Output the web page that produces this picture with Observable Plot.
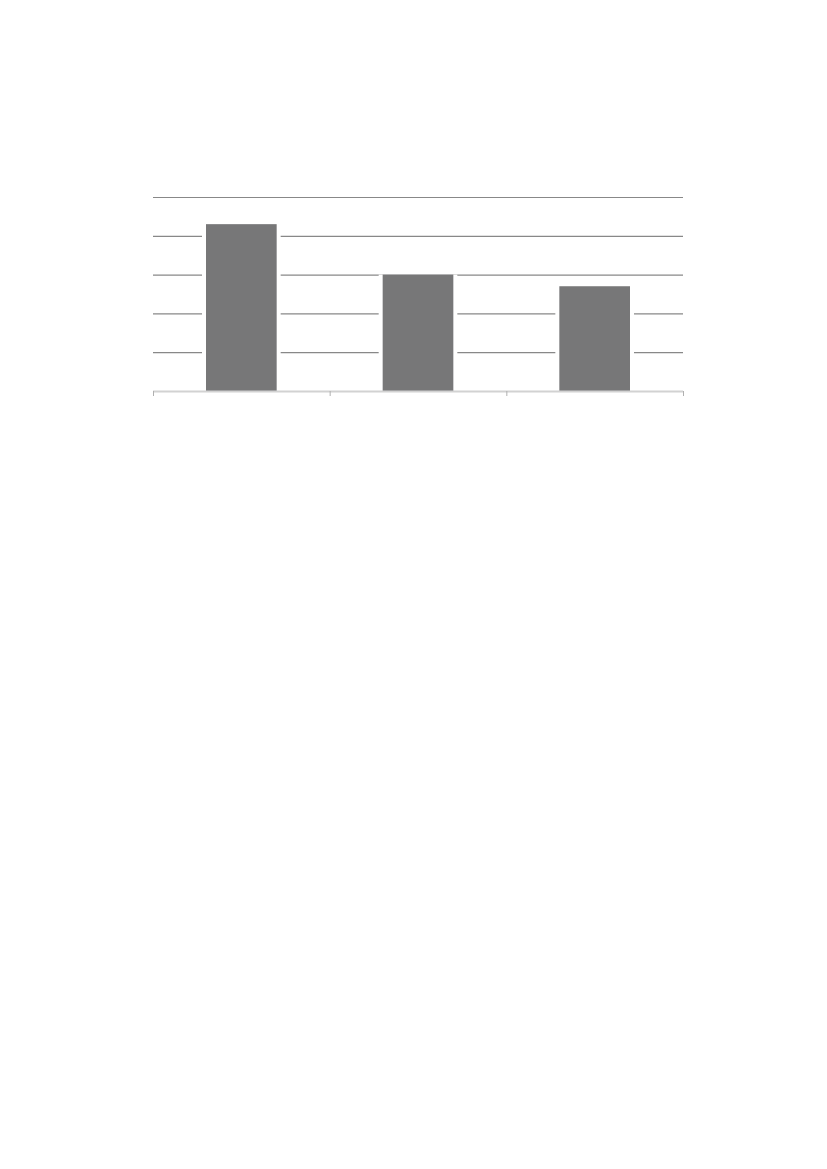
<!DOCTYPE html>
<html>
<head>
<meta charset="utf-8">
<script src="https://cdn.jsdelivr.net/npm/d3@7"></script>
<script src="https://cdn.jsdelivr.net/npm/@observablehq/plot@0.6"></script>
<style>
  html, body { margin: 0; padding: 0; background: #fff; }
  #chart svg { display: block; }
</style>
</head>
<body>
<div id="chart"></div>
<script>
const categories = ["A", "B", "C"];
const values = [4.3, 3.0, 2.7];
const yTicks = [1, 2, 3, 4, 5];
const xBoundaries = [0, 1, 2, 3];

const data = categories.map((c, i) => ({category: c, i0: i, i1: i + 1, value: values[i]}));

const chart = Plot.plot({
  width: 827,
  height: 401,
  marginTop: 197,
  marginBottom: 10,
  marginLeft: 153,
  marginRight: 144,
  style: {background: "#fff"},
  x: {type: "linear", domain: [0, 3], axis: null},
  y: {domain: [0, 5], axis: null},
  marks: [
    Plot.gridY(yTicks, {stroke: "#888", strokeOpacity: 1, strokeWidth: 1.2}),
    Plot.rectY(data, {x1: "i0", x2: "i1", y: "value", fill: "#fff", insetLeft: 49, insetRight: 49}),
    Plot.rectY(data, {x1: "i0", x2: "i1", y: "value", fill: "#777778", insetLeft: 53, insetRight: 53}),
    Plot.ruleY([0], {stroke: "#d2d2d2", strokeWidth: 2}),
    Plot.axisX(xBoundaries, {tickSize: 5, tickFormat: () => "", stroke: "#b0b0b0", strokeWidth: 1})
  ]
});
document.getElementById("chart").appendChild(chart);
</script>
</body>
</html>
